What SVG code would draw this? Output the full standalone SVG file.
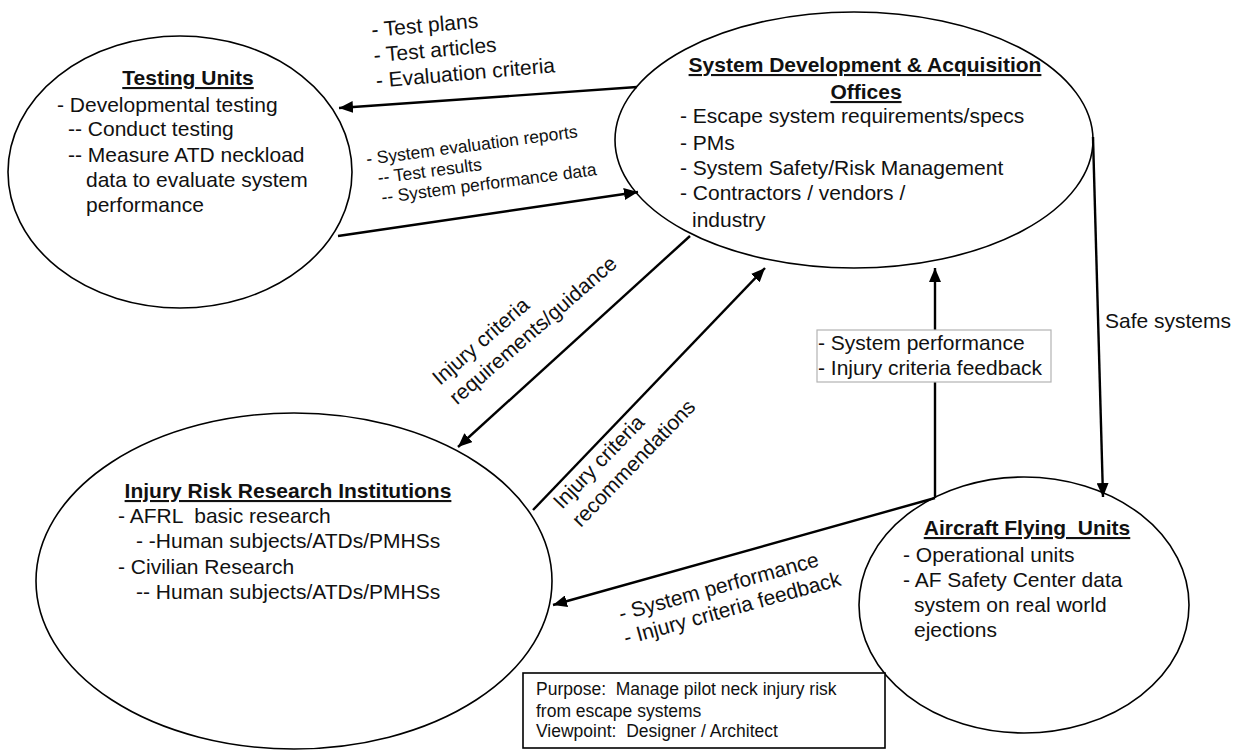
<svg xmlns="http://www.w3.org/2000/svg" width="1243" height="750" viewBox="0 0 1243 750">
<style>
.bg{fill:#fff}
.node ellipse{fill:#fff;stroke:#000;stroke-width:1.6}
text{font-family:"Liberation Sans",Arial,Helvetica,sans-serif;font-size:21px;fill:#111}
.title{font-weight:bold;text-decoration:underline}
.mid{text-anchor:middle}
.pre{white-space:pre}
.sm{font-size:17.5px}
.pu{font-size:17.5px;white-space:pre}
.conn line{stroke:#000;stroke-width:2.4;fill:none;marker-end:url(#ah)}
.lbox{fill:#fff;stroke:#b3b3b3;stroke-width:1.2}
.pbox{fill:#fff;stroke:#000;stroke-width:1.6}
</style>
<defs>
<marker id="ah" markerUnits="userSpaceOnUse" viewBox="0 0 14 12" markerWidth="14" markerHeight="12" refX="14" refY="6" orient="auto">
<path d="M0,0 L14,6 L0,12 z" fill="#000"/>
</marker>
</defs>
<rect class="bg" x="0" y="0" width="1243" height="750"/>

<g id="testing-units" class="node">
<ellipse cx="180" cy="172" rx="172" ry="136"/>
<text class="title mid" x="188" y="85">Testing Units</text>
<text x="57" y="112">- Developmental testing</text>
<text x="68" y="136">-- Conduct testing</text>
<text x="68" y="162">-- Measure ATD neckload</text>
<text x="86" y="187">data to evaluate system</text>
<text x="86" y="212">performance</text>
</g>

<g id="system-development" class="node">
<ellipse cx="854" cy="140" rx="239" ry="128"/>
<text class="title mid" x="865" y="72">System Development &amp; Acquisition</text>
<text class="title mid" x="866" y="99">Offices</text>
<text x="680" y="123">- Escape system requirements/specs</text>
<text x="680" y="150">- PMs</text>
<text x="680" y="175">- System Safety/Risk Management</text>
<text x="680" y="200">- Contractors / vendors /</text>
<text x="692" y="227">industry</text>
</g>

<g id="injury-risk" class="node">
<ellipse cx="294" cy="581" rx="258" ry="168"/>
<text class="title mid" x="288" y="498">Injury Risk Research Institutions</text>
<text class="pre" x="118" y="523">- AFRL  basic research</text>
<text x="136" y="548">- -Human subjects/ATDs/PMHSs</text>
<text x="118" y="574">- Civilian Research</text>
<text x="136" y="599">-- Human subjects/ATDs/PMHSs</text>
</g>

<g id="aircraft-flying-units" class="node">
<ellipse cx="1024" cy="605" rx="165" ry="128"/>
<text class="title mid pre" x="1027" y="535">Aircraft Flying  Units</text>
<text x="903" y="562">- Operational units</text>
<text x="903" y="587">- AF Safety Center data</text>
<text x="914" y="612">system on real world</text>
<text x="914" y="637">ejections</text>
</g>

<g id="connectors" class="conn">
<line x1="637" y1="87" x2="339" y2="108"/>
<line x1="338" y1="236" x2="638" y2="192"/>
<line x1="690" y1="236" x2="458" y2="447"/>
<line x1="533" y1="510" x2="765" y2="268"/>
<line x1="935" y1="498" x2="935" y2="268"/>
<line x1="935" y1="498" x2="553" y2="605"/>
<line x1="1093" y1="137" x2="1103" y2="497"/>
</g>

<g id="connector-labels">
<g transform="translate(372,37) rotate(-5)">
<text x="0" y="0">- Test plans</text>
<text x="0" y="25.5">- Test articles</text>
<text x="0" y="51">- Evaluation criteria</text>
</g>
<g transform="translate(367,165) rotate(-7.5)">
<text class="sm" x="0" y="0">- System evaluation reports</text>
<text class="sm" x="9" y="20">-- Test results</text>
<text class="sm" x="10" y="40">-- System performance data</text>
</g>
<g transform="translate(440,386) rotate(-41)">
<text x="0" y="0">Injury criteria</text>
<text x="0" y="26">requirements/guidance</text>
</g>
<g transform="translate(562,510) rotate(-46)">
<text x="0" y="0">Injury criteria</text>
<text x="0" y="26">recommendations</text>
</g>
<g transform="translate(621,621) rotate(-15.5)">
<text x="0" y="0">- System performance</text>
<text x="-1.5" y="24.5">- Injury criteria feedback</text>
</g>
<g id="feedback-box">
<rect class="lbox" x="817" y="330" width="234" height="52"/>
<text x="818" y="350">- System performance</text>
<text x="818" y="375">- Injury criteria feedback</text>
</g>
<text x="1105" y="328">Safe systems</text>
</g>

<g id="purpose">
<rect class="pbox" x="523" y="673" width="362" height="75"/>
<text class="pu" x="536" y="695">Purpose:  Manage pilot neck injury risk</text>
<text class="pu" x="536" y="717">from escape systems</text>
<text class="pu" x="536" y="737">Viewpoint:  Designer / Architect</text>
</g>
</svg>
